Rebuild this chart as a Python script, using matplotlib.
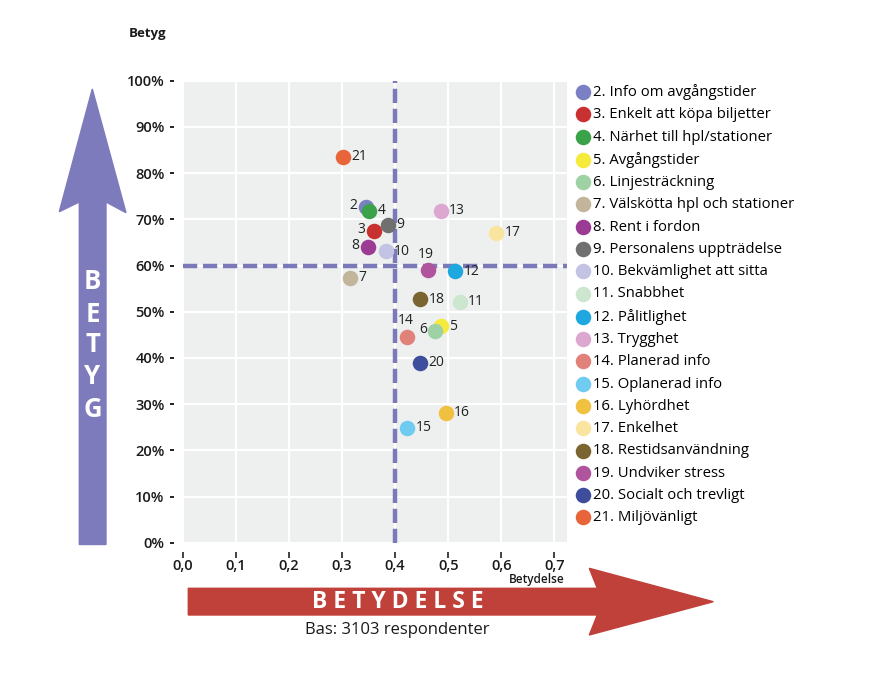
import matplotlib.pyplot as plt
import matplotlib.patches as mpatches
from matplotlib.ticker import FixedLocator

plt.rcParams['font.family'] = ['Open Sans', 'DejaVu Sans']

# Data
nummer = [2, 3, 4, 5, 6, 7, 8, 9, 10, 11, 12, 13, 14, 15, 16, 17, 18, 19, 20, 21]
namn = ['Info om avgångstider', 'Enkelt att köpa biljetter', 'Närhet till hpl/stationer',
        'Avgångstider', 'Linjesträckning', 'Välskötta hpl och stationer', 'Rent i fordon',
        'Personalens uppträdelse', 'Bekvämlighet att sitta', 'Snabbhet', 'Pålitlighet',
        'Trygghet', 'Planerad info', 'Oplanerad info', 'Lyhördhet', 'Enkelhet',
        'Restidsanvändning', 'Undviker stress', 'Socialt och trevligt', 'Miljövänligt']
betydelse = [0.345, 0.360, 0.351, 0.486, 0.475, 0.315, 0.348, 0.387, 0.382, 0.522,
             0.513, 0.486, 0.423, 0.423, 0.495, 0.590, 0.447, 0.461, 0.446, 0.302]
betyg = [72.6, 67.5, 71.8, 46.9, 45.9, 57.4, 64.0, 68.8, 63.1, 52.2,
         58.8, 71.8, 44.6, 24.9, 28.1, 67.1, 52.7, 59.0, 38.9, 83.5]
farger = ['#7b7fc4', '#c8312f', '#3aa34a', '#f6eb3c', '#9ed1a4', '#c2b59b', '#9b3b94',
          '#707070', '#c3c3e3', '#cde6cf', '#1fa8e0', '#dca8d0', '#e0827a', '#6fcbef',
          '#f0c040', '#f9e4a0', '#7a6531', '#b0549e', '#3e4e9c', '#e8653a']
# placering av sifferetiketter: r = höger, l = vänster, u = ovanför
etikett_plats = ['l', 'l', 'r', 'r', 'l', 'r', 'l', 'r', 'r', 'r',
                 'r', 'r', 'u', 'r', 'r', 'r', 'r', 'u', 'r', 'r']

x_ticks = [0.0, 0.1, 0.2, 0.3, 0.4, 0.5, 0.6, 0.7]
y_ticks = [0, 10, 20, 30, 40, 50, 60, 70, 80, 90, 100]
gräns_x = 0.40
gräns_y = 60

W, H = 883, 688
fig = plt.figure(figsize=(W / 100, H / 100), dpi=100)


def px(x, y):
    return (x / W, 1 - y / H)


ax = fig.add_axes([182.7 / W, 1 - 542.7 / H, 384 / W, 462 / H])
ax.set_facecolor('#eef0f0')
ax.set_xlim(0, 0.723)
ax.set_ylim(0, 100)
ax.xaxis.set_major_locator(FixedLocator(x_ticks))
ax.yaxis.set_major_locator(FixedLocator(y_ticks))
ax.set_xticklabels([f'{v:.1f}'.replace('.', ',') for v in x_ticks])
ax.set_yticklabels([f'{v}%' for v in y_ticks])
ax.grid(True, color='white', lw=1.6)
ax.set_axisbelow(True)
for s in ax.spines.values():
    s.set_visible(False)
ax.spines['bottom'].set_position(('outward', 7))
ax.spines['left'].set_position(('outward', 6))
ax.tick_params(axis='x', direction='out', length=4, width=1.2, pad=1, labelsize=10.5, color='#222222')
ax.tick_params(axis='y', direction='out', length=3, width=1.4, pad=4, labelsize=10.5, color='#222222')
for lab in ax.get_xticklabels() + ax.get_yticklabels():
    lab.set_fontweight('semibold')
    lab.set_color('#1a1a1a')

ax.axvline(gräns_x, color='#7b79b8', lw=3.2, dashes=(3.2, 1.3), zorder=2)
ax.axhline(gräns_y, color='#7b79b8', lw=3.2, dashes=(3.2, 1.3), zorder=2)

for i in range(len(nummer)):
    ax.scatter(betydelse[i], betyg[i], s=125, color=farger[i], zorder=3, linewidths=0,
               label=f'{nummer[i]}. {namn[i]}')
    p = etikett_plats[i]
    if p == 'r':
        off, ha, va = (6, 0), 'left', 'center'
    elif p == 'l':
        off, ha, va = (-6, 1), 'right', 'center'
    else:
        off, ha, va = (-1, 6), 'center', 'bottom'
    ax.annotate(str(nummer[i]), (betydelse[i], betyg[i]), xytext=off, textcoords='offset points',
                ha=ha, va=va, fontsize=10, color='#222222', zorder=4)

fig.legend(loc='upper left', bbox_to_anchor=px(568, 78), frameon=False, fontsize=10.7,
           handletextpad=0.05, handlelength=1.2, labelspacing=0.49, borderaxespad=0,
           markerscale=1.0)

fig.text(*px(148, 33), 'Betyg', fontsize=9.5, fontweight='bold', ha='center', va='center', color='#1a1a1a')
fig.text(*px(537, 580), 'Betydelse', fontsize=8.5, fontweight='semibold', ha='center', va='center',
         color='#1a1a1a')

# lila pil (Betyg)
lila = '#7e7bbd'
pil_v = [(92.3, 89), (126, 212.7), (106, 202), (106, 544.5), (79.3, 544.5), (79.3, 202), (59.3, 211.7)]
fig.patches.append(mpatches.Polygon([px(*p) for p in pil_v], closed=True, color=lila,
                                    transform=fig.transFigure, figure=fig))
for bokstav, y in zip('BETYG', [281.7, 315, 345, 376.7, 410]):
    fig.text(*px(92.5, y), bokstav, color='white', fontsize=18.5, fontweight='bold', ha='center', va='center')

# röd pil (Betydelse)
röd = '#c0403a'
pil_h = [(188.3, 588.3), (597.3, 588.3), (589.3, 568.3), (713.3, 601.7), (589.3, 635),
         (597.3, 615), (188.3, 615)]
fig.patches.append(mpatches.Polygon([px(*p) for p in pil_h], closed=True, color=röd,
                                    transform=fig.transFigure, figure=fig))
fig.text(*px(398, 602), 'B E T Y D E L S E', color='white', fontsize=16.5, fontweight='bold',
         ha='center', va='center')
fig.text(*px(397, 630), 'Bas: 3103 respondenter', color='#1a1a1a', fontsize=12,
         ha='center', va='center')

fig.savefig('out.png', dpi=100)
